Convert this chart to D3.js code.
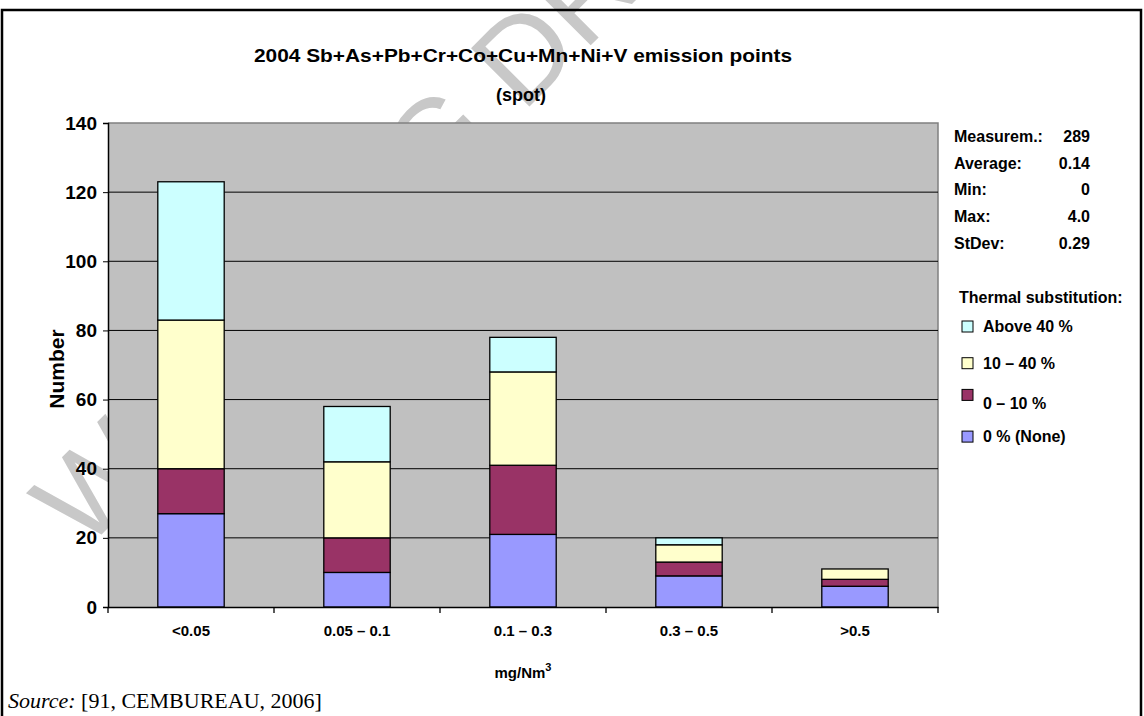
<!DOCTYPE html>
<html><head><meta charset="utf-8">
<script src="https://cdn.jsdelivr.net/npm/d3@7"></script>
<style>
html,body{margin:0;padding:0;background:#fff;}
svg{display:block;font-family:"Liberation Sans",Arial,sans-serif;}
</style></head>
<body>
<svg id="c" width="1144" height="716"></svg>
<script>
// ---- data ----
const categories = ["<0.05", "0.05 – 0.1", "0.1 – 0.3", "0.3 – 0.5", ">0.5"];
const seriesNames = ["0 % (None)", "0 – 10 %", "10 – 40 %", "Above 40 %"];
const noneVals  = [27, 10, 21, 9, 6];
const lowVals   = [13, 10, 20, 4, 2];
const midVals   = [43, 22, 27, 5, 3];
const highVals  = [40, 16, 10, 2, 0];
const yTicks = [0, 20, 40, 60, 80, 100, 120, 140];
const statLabels = ["Measurem.:", "Average:", "Min:", "Max:", "StDev:"];
const statValues = ["289", "0.14", "0", "4.0", "0.29"];
const seriesColors = ["#9999FF", "#993366", "#FFFFCC", "#CCFFFF"];

const svg = d3.select("#c");

// watermark
svg.append("text")
  .attr("transform", "translate(84,552) rotate(-45)")
  .attr("font-size", 120).attr("fill", "#c8c8c8")
  .attr("font-family", "Liberation Sans, Arial, sans-serif")
  .text("WORKING DRAFT");

// outer frame
svg.append("path").attr("d", "M2,730 V10 H1141 V730")
  .attr("fill", "none").attr("stroke", "#000").attr("stroke-width", 2.5);

const L = 108, R = 938, T = 123, B = 607;

const table = categories.map((c, i) => ({
  cat: c, s0: noneVals[i], s1: lowVals[i], s2: midVals[i], s3: highVals[i]
}));
const stack = d3.stack().keys(["s0", "s1", "s2", "s3"])(table);

const x = d3.scaleBand().domain(categories).range([L, R]).paddingInner(0.6).paddingOuter(0.3);
const y = d3.scaleLinear().domain([0, 140]).range([B, T]);

// plot area
svg.append("rect").attr("x", L).attr("y", T).attr("width", R - L).attr("height", B - T)
  .attr("fill", "#C0C0C0");
svg.append("path").attr("d", `M${L},${T}H${R}V${B}`).attr("fill", "none")
  .attr("stroke", "#808080").attr("stroke-width", 1.5);

// grid
svg.append("g").selectAll("line").data(yTicks.filter(d => d > 0 && d < 140)).join("line")
  .attr("x1", L).attr("x2", R).attr("y1", d => y(d)).attr("y2", d => y(d))
  .attr("stroke", "#000").attr("stroke-width", 1);

// bars
svg.append("g").selectAll("g").data(stack).join("g")
  .attr("fill", (d, i) => seriesColors[i])
  .selectAll("rect").data(d => d.filter(s => s[1] - s[0] > 0)).join("rect")
  .attr("x", d => x(d.data.cat)).attr("width", x.bandwidth())
  .attr("y", d => y(d[1])).attr("height", d => y(d[0]) - y(d[1]))
  .attr("stroke", "#000").attr("stroke-width", 1.3);

// y axis
const yAxis = svg.append("g").attr("transform", `translate(${L},0)`)
  .call(d3.axisLeft(y).tickValues(yTicks).tickSize(5).tickPadding(6));
yAxis.select(".domain").attr("stroke", "#000").attr("stroke-width", 1.5);
yAxis.selectAll("text").attr("font-size", 19).attr("font-weight", "bold")
  .attr("font-family", "Liberation Sans, Arial, sans-serif").attr("fill", "#000");

// x axis
const xAxis = svg.append("g").attr("transform", `translate(0,${B})`)
  .call(d3.axisBottom(x).tickSize(0).tickPadding(18));
xAxis.select(".domain").attr("stroke", "#000").attr("stroke-width", 1.5);
xAxis.selectAll("text").attr("font-size", 15).attr("font-weight", "bold")
  .attr("font-family", "Liberation Sans, Arial, sans-serif").attr("fill", "#000");
const step = x.step();
const bounds = d3.range(categories.length + 1).map(i => L + i * step);
svg.append("g").selectAll("line").data(bounds).join("line")
  .attr("x1", d => d).attr("x2", d => d).attr("y1", B).attr("y2", B + 6)
  .attr("stroke", "#000").attr("stroke-width", 1.3);

// titles
svg.append("text").attr("x", 523).attr("y", 62).attr("text-anchor", "middle")
  .attr("font-size", 18).attr("font-weight", "bold")
  .attr("textLength", 538).attr("lengthAdjust", "spacingAndGlyphs")
  .text("2004 Sb+As+Pb+Cr+Co+Cu+Mn+Ni+V emission points");
svg.append("text").attr("x", 521).attr("y", 101).attr("text-anchor", "middle")
  .attr("font-size", 18).attr("font-weight", "bold").text("(spot)");

svg.append("text").attr("transform", "translate(64,369) rotate(-90)")
  .attr("text-anchor", "middle").attr("font-size", 21).attr("font-weight", "bold")
  .text("Number");

const xt = svg.append("text").attr("x", 523).attr("y", 678).attr("text-anchor", "middle")
  .attr("font-size", 15).attr("font-weight", "bold");
xt.append("tspan").text("mg/Nm");
xt.append("tspan").attr("dy", -7).attr("font-size", 11).text("3");

// source
const src = svg.append("text").attr("x", 8).attr("y", 708)
  .attr("font-family", "Liberation Serif, Times New Roman, serif").attr("font-size", 22);
src.append("tspan").attr("font-style", "italic").text("Source:");
src.append("tspan").text(" [91, CEMBUREAU, 2006]");

// stats
const sg = svg.append("g").attr("font-size", 16).attr("font-weight", "bold");
statLabels.forEach((t, i) => {
  const yy = 142 + i * 26.7;
  sg.append("text").attr("x", 954).attr("y", yy).text(t);
  sg.append("text").attr("x", 1090).attr("y", yy).attr("text-anchor", "end").text(statValues[i]);
});

// legend
const lg = svg.append("g").attr("font-size", 16).attr("font-weight", "bold");
lg.append("text").attr("x", 959).attr("y", 303).text("Thermal substitution:");
const order = [3, 2, 1, 0];
order.forEach((si, k) => {
  const yy = 332 + k * 36.7;
  const dy = si === 1 ? 4 : 0;
  lg.append("rect").attr("x", 962).attr("y", yy - 11 - (si === 1 ? 5 : 0)).attr("width", 11).attr("height", 11)
    .attr("fill", seriesColors[si]).attr("stroke", "#000").attr("stroke-width", 1);
  lg.append("text").attr("x", 983).attr("y", yy + dy).text(seriesNames[si]);
});
</script>
</body></html>
